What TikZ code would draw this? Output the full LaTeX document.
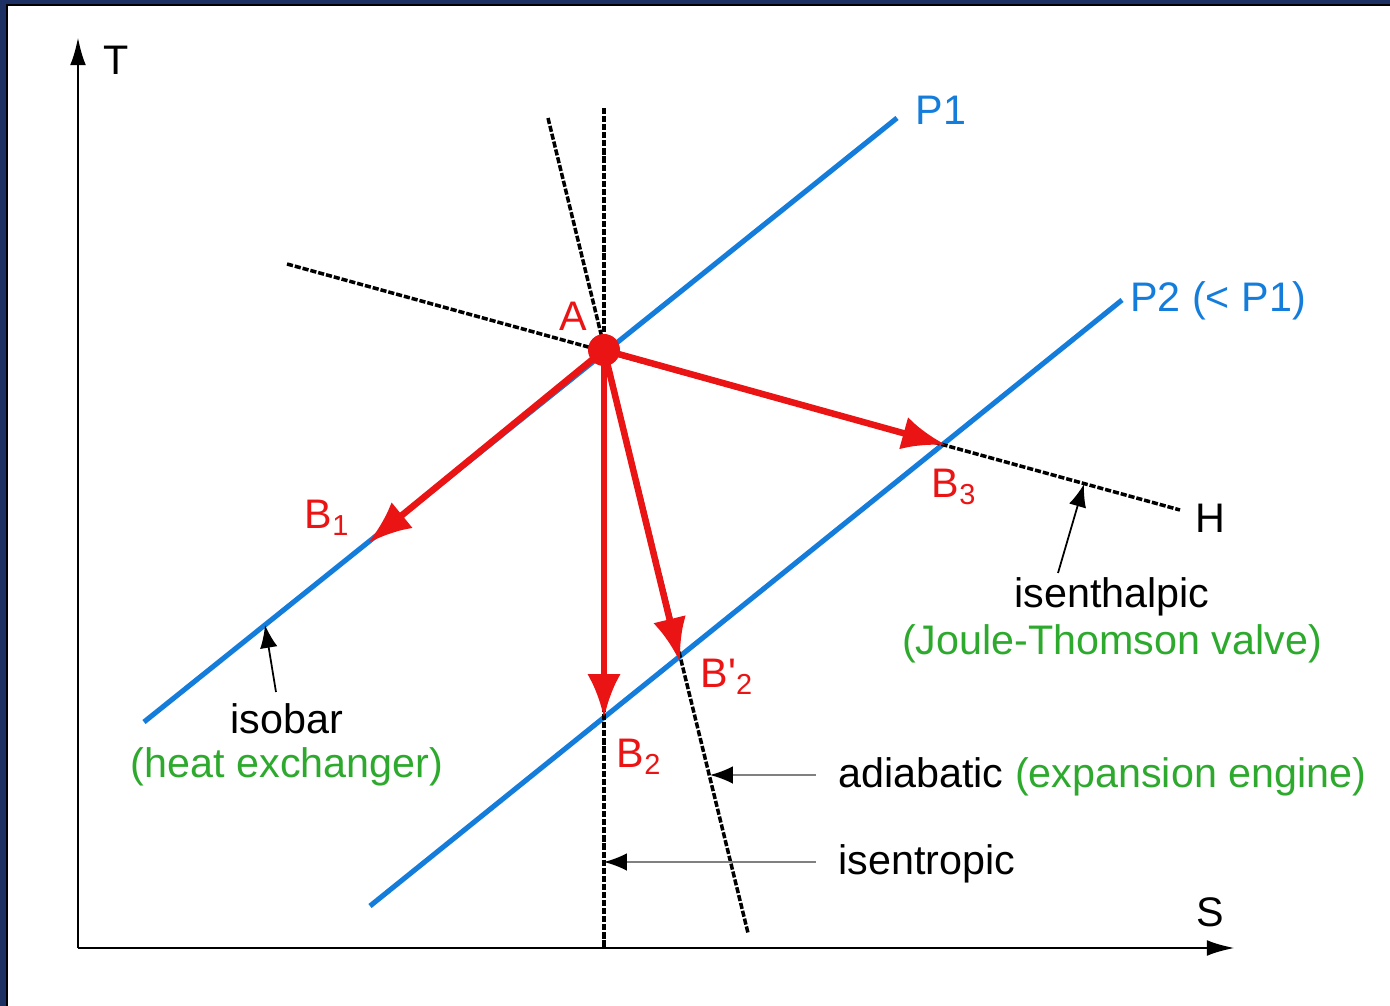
\documentclass[tikz,border=0pt]{standalone}
\usepackage{fontspec}
\setmainfont{Liberation Sans}
\usepackage{tikz}
\usetikzlibrary{arrows.meta,calc}
\usepackage{xcolor}
\definecolor{isoblue}{RGB}{20,125,220}
\definecolor{procred}{RGB}{235,20,20}
\definecolor{notegreen}{RGB}{45,170,45}
\definecolor{frameblue}{RGB}{28,48,100}

\begin{document}
\begin{tikzpicture}[x=0.02cm, y=-0.02cm,
  axis/.style={line width=1.7pt, -{Latex[length=16pt,width=9pt]}},
  isobar/.style={line width=2.9pt, isoblue},
  guide/.style={line width=2pt, dash pattern=on 3.5pt off 1.1pt},
  process/.style={line width=3.7pt, procred, -{Latex[length=25pt,width=19pt]}},
  note/.style={line width=1pt, gray, -{Latex[length=13pt,width=10pt,black]}},
  txt/.style={font=\fontsize{23.5}{27}\selectfont, inner sep=0pt},
  redtxt/.style={txt, procred},
  bluetxt/.style={txt, isoblue},
  greentxt/.style={txt, notegreen}]
  \useasboundingbox (0,0) rectangle (1390,1006);
  % frame of the slide
  \fill[frameblue] (0,0) rectangle (1390,4);
  \fill[frameblue] (0,0) rectangle (6,1006);
  \fill[black] (6,4) rectangle (1390,6);
  \fill[black] (6,6) rectangle (8,1006);

  % axes
  \coordinate (O) at (78,948);
  \draw[axis] (O) -- (78,37);
  \draw[axis] (O) -- (1235,948);
  \node[txt] (lT) at (116,60) {T};
  \node[txt] (lS) at (1210,912) {S};

  % state points
  \coordinate (A) at (604,350);
  \coordinate (B1) at (368,543);
  \coordinate (B2) at (604,718);
  \coordinate (B2p) at (680,662);
  \coordinate (B3) at (946,445);

  % isobars
  \draw[isobar] (144,722) -- (897,118);
  \draw[isobar] (370,906) -- (1122,300);
  \node[bluetxt] (lP1) at (941,110) {P1};
  \node[bluetxt] (lP2) at (1218,301) {P2 (< P1)};

  % isentropic, adiabatic and isenthalpic lines
  \draw[guide] (604,108) -- (604,948);
  \draw[guide] (548,118) -- (748,933);
  \draw[guide] (287,264) -- (1180,510);
  \node[txt] (lH) at (1210,518) {H};

  % processes from A
  \draw[process] (A) -- (B1);
  \draw[process] (A) -- (B2);
  \draw[process] (A) -- (B2p);
  \draw[process] (A) -- (B3);
  \fill[procred] (A) circle (16);
  \node[redtxt] (lA) at (573,316) {A};
  \node[redtxt] (lB1) at (327,518) {B\textsubscript{1}};
  \node[redtxt] (lB2) at (639,757) {B\textsubscript{2}};
  \node[redtxt] (lB2p) at (727,677) {B\textquotesingle\textsubscript{2}};
  \node[redtxt] (lB3) at (954,487) {B\textsubscript{3}};

  % annotations
  \node[txt] (isobarTxt) at (287,719) {isobar};
  \node[greentxt] (isobarNote) at (287,767) {(heat exchanger)};
  \coordinate (isobarTail) at (276,692);
  \coordinate (isobarTip) at (265,625);
  \draw[note, black] (isobarTail) -- (isobarTip);

  \node[txt] (enthTxt) at (1112,597) {isenthalpic};
  \node[greentxt] (enthNote) at (1112,644) {(Joule-Thomson valve)};
  \coordinate (enthTail) at (1058,573);
  \coordinate (enthTip) at (1084,484);
  \draw[note, black] (enthTail) -- (enthTip);

  \node[txt, anchor=west] (adiaTxt) at (838,777) {adiabatic \textcolor{notegreen}{(expansion engine)}};
  \coordinate (adiaTip) at (710,775);
  \draw[note] (adiaTxt.west) ++(-22,-2) coordinate (adiaTail) -- (adiaTip);

  \node[txt, anchor=west] (isenTxt) at (838,864) {isentropic};
  \coordinate (isenTip) at (604,862);
  \draw[note] (isenTxt.west) ++(-22,-2) coordinate (isenTail) -- (isenTip);
\end{tikzpicture}
\end{document}
